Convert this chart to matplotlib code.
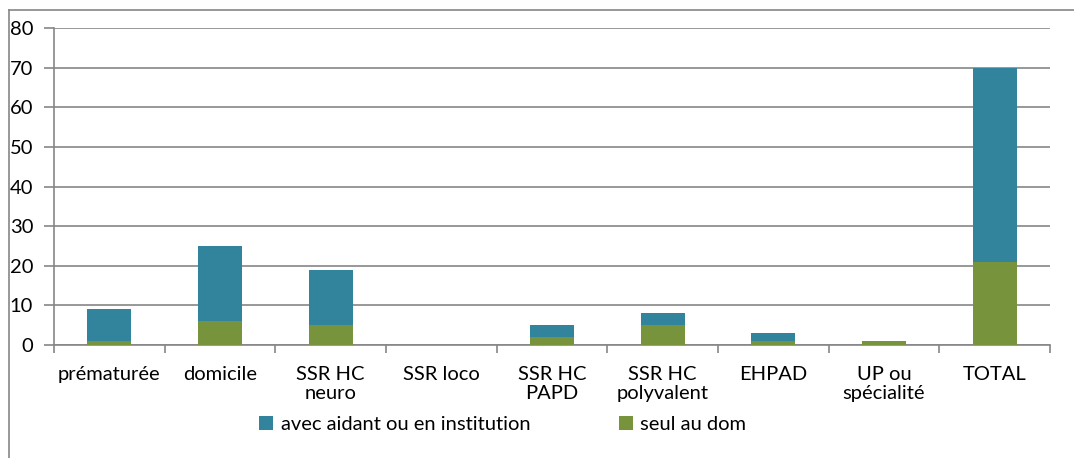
import matplotlib.pyplot as plt
from matplotlib.lines import Line2D
import numpy as np

categories = ["prématurée", "domicile", "SSR HC\nneuro", "SSR loco", "SSR HC\nPAPD",
              "SSR HC\npolyvalent", "EHPAD", "UP ou\nspécialité", "TOTAL"]
seul_au_dom = [1, 6, 5, 0, 2, 5, 1, 1, 21]
avec_aidant = [8, 19, 14, 0, 3, 3, 2, 0, 49]
y_ticks = [0, 10, 20, 30, 40, 50, 60, 70, 80]

blue = "#31849B"
green = "#77933C"
grey = "#868686"

plt.rcParams["font.family"] = ["Lato", "DejaVu Sans"]

fig = plt.figure(figsize=(10.74, 4.58), dpi=100)
ax = fig.add_axes([54 / 1074, 113 / 458, 996 / 1074, 317 / 458])

x = np.arange(len(categories))
ax.bar(x, seul_au_dom, width=0.4, color=green, label="seul au dom", zorder=3)
ax.bar(x, avec_aidant, width=0.4, bottom=seul_au_dom, color=blue,
       label="avec aidant ou en institution", zorder=3)

ax.set_xlim(-0.5, len(categories) - 0.5)
ax.set_ylim(0, 80)
ax.set_yticks(y_ticks)
ax.set_yticklabels([str(v) for v in y_ticks], fontsize=14.5)
ax.yaxis.grid(True, color=grey, linewidth=1.2, zorder=0)

ax.set_xticks(x)
ax.set_xticklabels(categories, fontsize=14.5, va="top", linespacing=1.15)
ax.tick_params(axis="x", which="major", length=0, pad=15)
ax.set_xticks(np.arange(-0.5, len(categories)), minor=True)
ax.tick_params(axis="x", which="minor", length=6, color=grey, width=1.2)
ax.tick_params(axis="y", length=7, color=grey, width=1.2, pad=8)

for side in ["top", "right"]:
    ax.spines[side].set_visible(False)
for side in ["left", "bottom"]:
    ax.spines[side].set_color(grey)
    ax.spines[side].set_linewidth(1.2)

# outer chart frame (top and left edges visible)
fig.add_artist(Line2D([9 / 1074, 1], [1 - 10 / 458, 1 - 10 / 458], color=grey, lw=1.2))
fig.add_artist(Line2D([9 / 1074, 9 / 1074], [0, 1 - 10 / 458], color=grey, lw=1.2))

handles, labels = ax.get_legend_handles_labels()
fig.legend(handles[::-1], labels[::-1], loc="center", bbox_to_anchor=(0.468, 0.074),
           ncol=2, frameon=False, fontsize=14.5, handlelength=0.7, handleheight=0.7,
           handletextpad=0.35, columnspacing=4.4)

fig.savefig("out.png", dpi=100)
